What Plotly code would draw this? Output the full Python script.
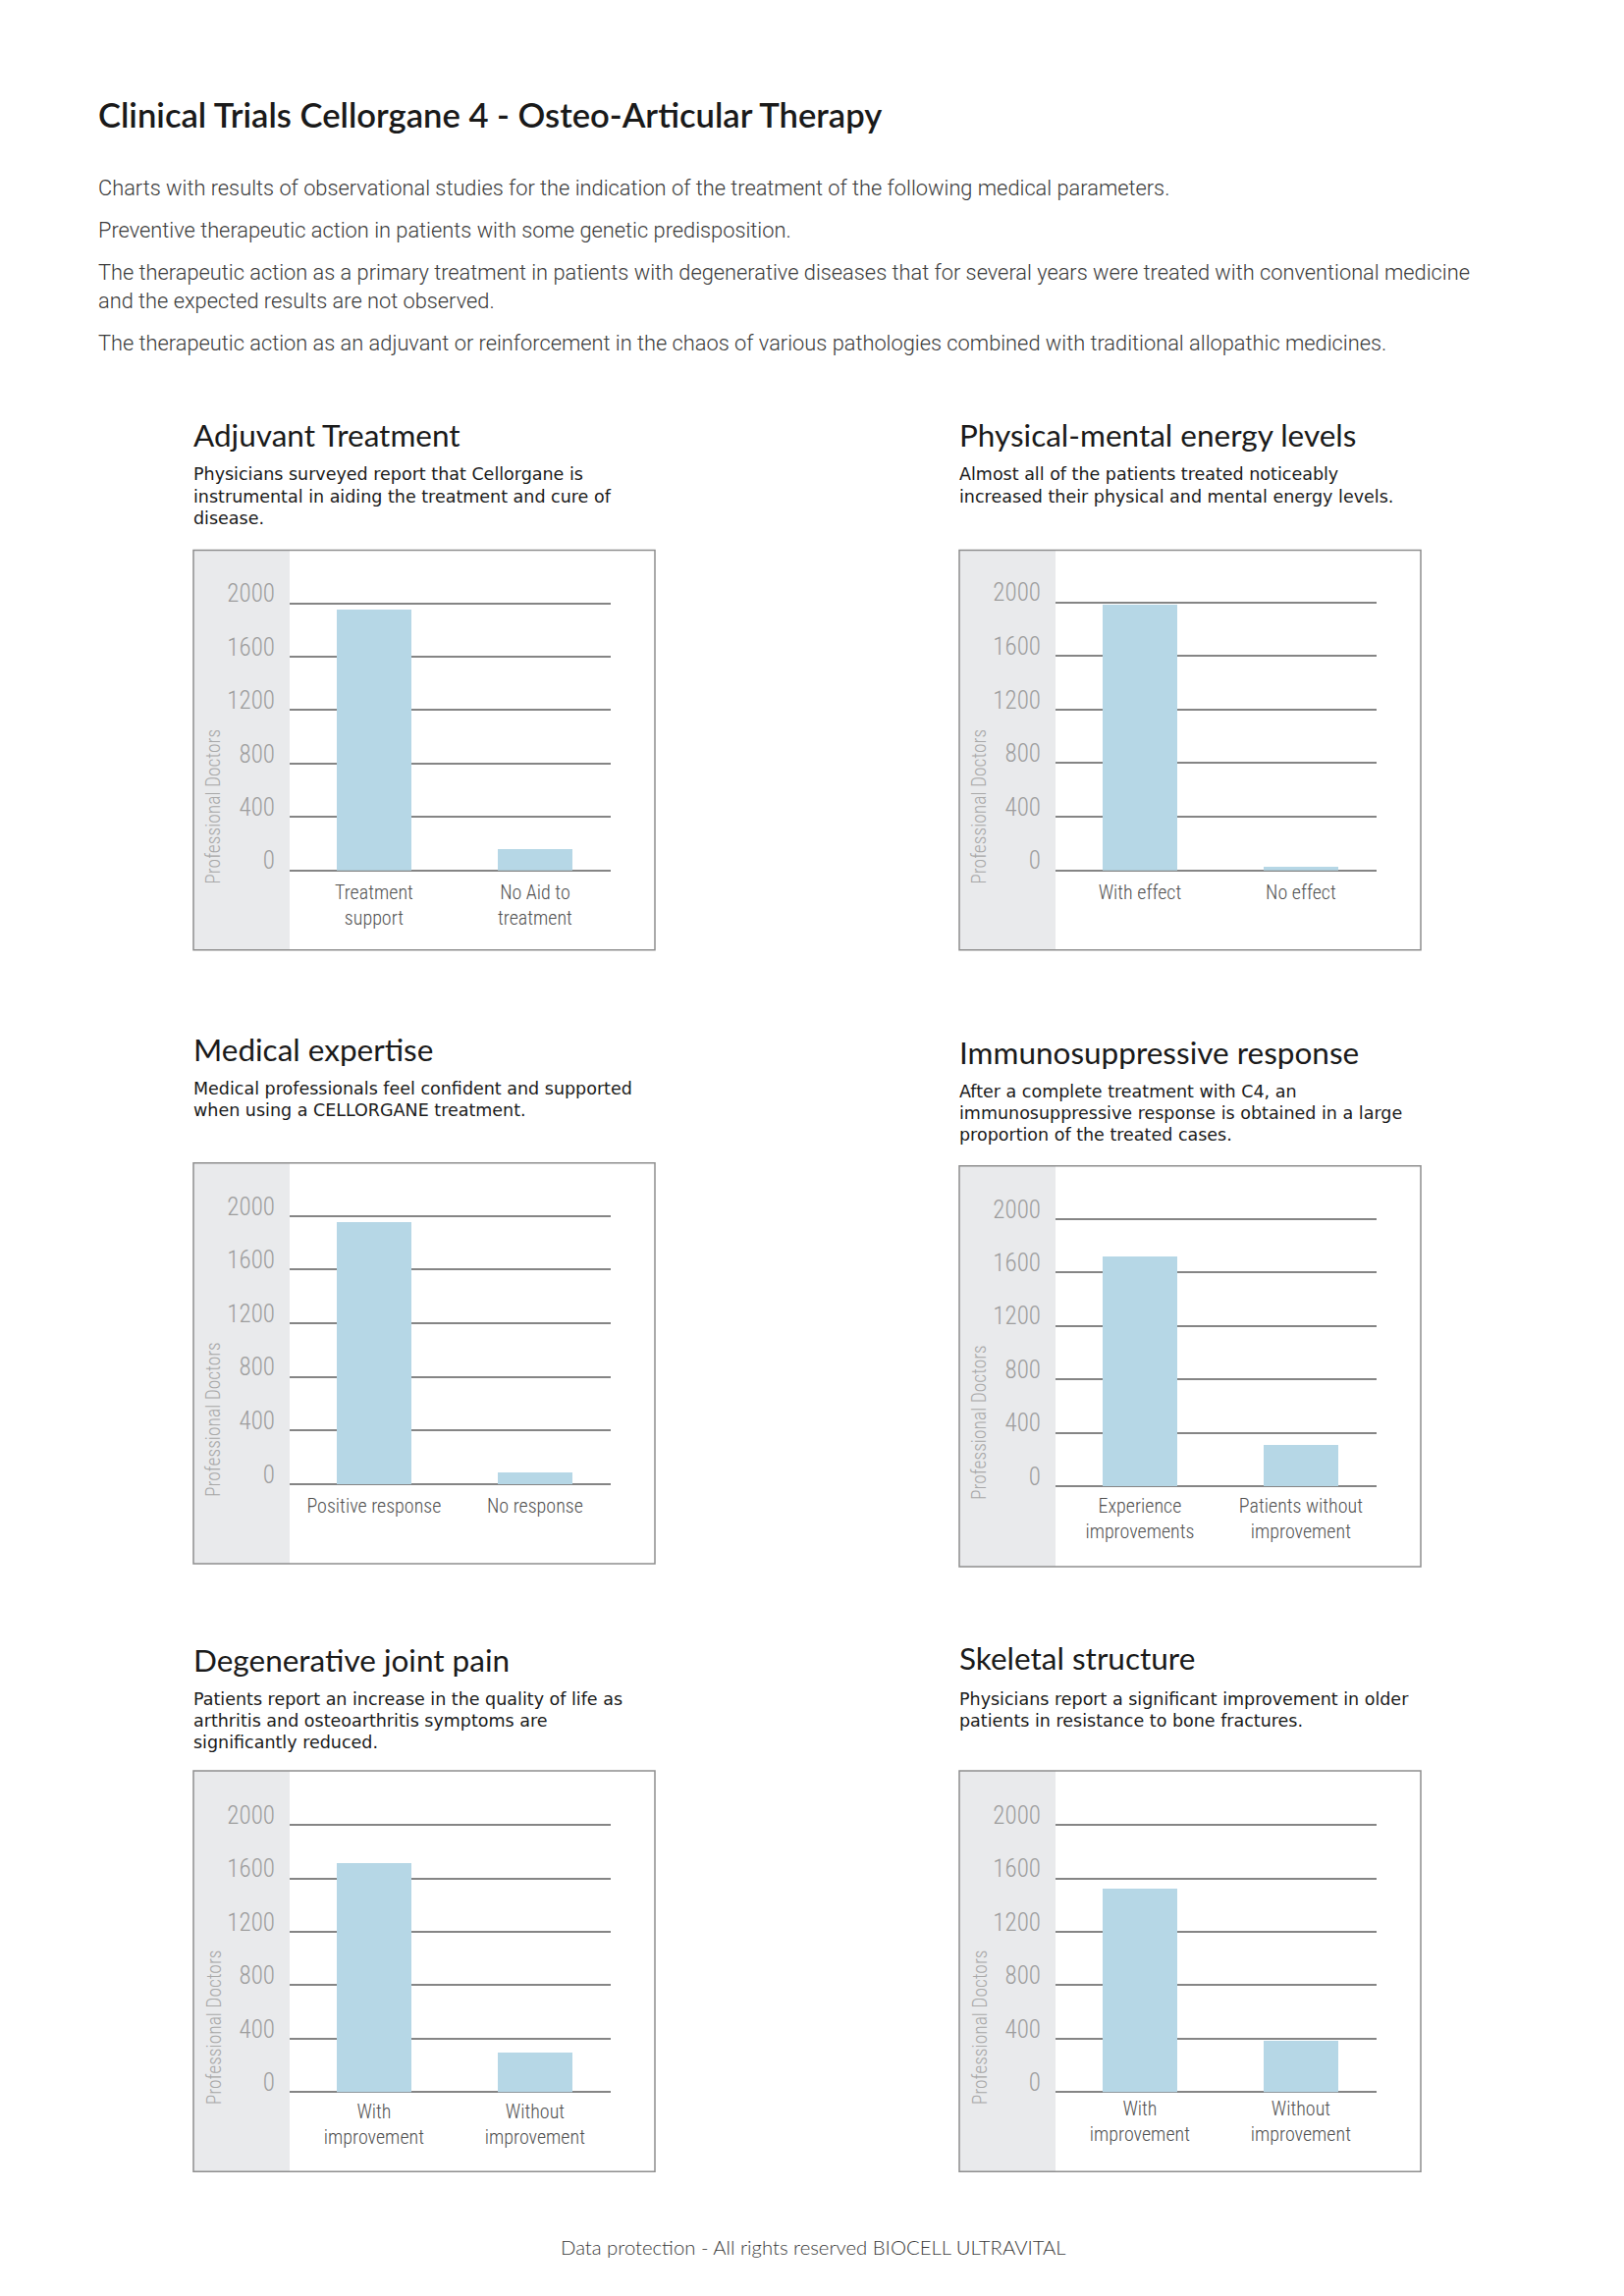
import plotly.graph_objects as go

# ---------------- data ----------------
panel_titles = ["Adjuvant Treatment", "Physical-mental energy levels", "Medical expertise",
                "Immunosuppressive response", "Degenerative joint pain", "Skeletal structure"]
panel_subtitles = [
    ["Physicians surveyed report that Cellorgane is", "instrumental in aiding the treatment and cure of", "disease."],
    ["Almost all of the patients treated noticeably", "increased their physical and mental energy levels."],
    ["Medical professionals feel confident and supported", "when using a CELLORGANE treatment."],
    ["After a complete treatment with C4, an", "immunosuppressive response is obtained in a large", "proportion of the treated cases."],
    ["Patients report an increase in the quality of life as", "arthritis and osteoarthritis symptoms are", "significantly reduced."],
    ["Physicians report a significant improvement in older", "patients in resistance to bone fractures."],
]
categories_1 = ["Treatment<br>support", "No Aid to<br>treatment"]
categories_2 = ["With effect", "No effect"]
categories_3 = ["Positive response", "No response"]
categories_4 = ["Experience<br>improvements", "Patients without<br>improvement"]
categories_5 = ["With<br>improvement", "Without<br>improvement"]
categories_6 = ["With<br>improvement", "Without<br>improvement"]
values_1 = [1950, 155]
values_2 = [1985, 25]
values_3 = [1950, 85]
values_4 = [1720, 305]
values_5 = [1720, 300]
values_6 = [1525, 390]
y_tick_values = [0, 400, 800, 1200, 1600, 2000]
y_tick_labels = ["0", "400", "800", "1200", "1600", "2000"]
y_axis_title = "Professional Doctors"

main_title = "Clinical Trials Cellorgane 4 - Osteo-Articular Therapy"
intro_lines = [
    "Charts with results of observational studies for the indication of the treatment of the following medical parameters.",
    "Preventive therapeutic action in patients with some genetic predisposition.",
    "The therapeutic action as a primary treatment in patients with degenerative diseases that for several years were treated with conventional medicine",
    "and the expected results are not observed.",
    "The therapeutic action as an adjuvant or reinforcement in the chaos of various pathologies combined with traditional allopathic medicines.",
]
footer = "Data protection - All rights reserved BIOCELL ULTRAVITAL"

categories = [categories_1, categories_2, categories_3, categories_4, categories_5, categories_6]
values = [values_1, values_2, values_3, values_4, values_5, values_6]

# ---------------- layout geometry (target pixels on the page) ----------------
OX, OY = 8, 8          # page body margin
FW, FH = 1636, 2318    # figure size
VA, VS = 18.8, 0.9892  # observed vertical page mapping correction

def px(x):
    return (x - OX) / FW

def py(y):
    yi = (y - VA) / VS
    return 1 - (yi - OY) / FH

boxes = [
    (197, 560, 667, 967), (977, 560, 1447, 967),
    (197, 1184, 667, 1592), (977, 1187, 1447, 1595),
    (197, 1803, 667, 2211), (977, 1803, 1447, 2211),
]
plot_y = [(614, 886), (613, 886), (1238, 1511), (1241, 1513), (1858, 2130), (1858, 2130)]
title_y = [443, 443, 1068, 1071, 1690, 1688]
sub_y0 = [483, 483, 1108, 1111, 1730, 1730]
cat_standoff = [8, 8, 8, 6, 6, 3]
YMAX = 2040

BAR = "#b6d7e6"
GRID = "#858585"
STRIP = "#e9eaec"
BORDER = "#8e8e8e"
COND = "Liberation Sans Narrow, Roboto Condensed, DejaVu Sans Condensed, Liberation Sans, sans-serif"

fig = go.Figure()
shapes = []
annotations = []

for i in range(6):
    bl, bt, br, bb = boxes[i]
    x0 = bl + 98
    x1 = x0 + 327
    yt, yb = plot_y[i]
    ytop = yb - (yb - yt) * YMAX / 2000
    ax = "" if i == 0 else str(i + 1)
    fig.add_trace(go.Bar(
        x=categories[i], y=values[i], marker=dict(color=BAR, line=dict(width=0)),
        width=0.463, xaxis="x" + ax, yaxis="y" + ax, showlegend=False, hoverinfo="x+y"))
    fig.layout["xaxis" + ax] = dict(
        domain=[px(x0), px(x1)], anchor="y" + ax, type="category",
        range=[-0.524, 1.47], showgrid=False, zeroline=False, showline=False,
        ticks="", tickfont=dict(family=COND, size=20, color="#505050", weight=300),
        ticklabelstandoff=cat_standoff[i], fixedrange=True)
    fig.layout["yaxis" + ax] = dict(
        domain=[py(yb), py(ytop)], anchor="x" + ax, range=[0, YMAX],
        tickvals=y_tick_values, ticktext=y_tick_labels,
        showgrid=True, gridcolor=GRID, gridwidth=1.5,
        zeroline=True, zerolinecolor=GRID, zerolinewidth=1.5, showline=False,
        ticks="", tickfont=dict(family=COND, size=25, color="#9d9d9d", weight=300),
        ticklabelstandoff=14, ticklabelshift=-10, fixedrange=True)
    shapes.append(dict(type="rect", xref="paper", yref="paper", layer="below",
                       x0=px(bl), x1=px(x0), y0=py(bb), y1=py(bt),
                       fillcolor=STRIP, line=dict(width=0)))
    shapes.append(dict(type="rect", xref="paper", yref="paper", layer="above",
                       x0=px(bl), x1=px(br), y0=py(bb), y1=py(bt),
                       fillcolor="rgba(0,0,0,0)", line=dict(color=BORDER, width=1.5)))
    annotations.append(dict(text=y_axis_title, xref="paper", yref="paper",
                            x=px(bl + 21), y=py(bt + 261), textangle=-90,
                            xanchor="center", yanchor="middle", showarrow=False,
                            font=dict(family=COND, size=19.5, color="#a8a8a8", weight=300)))
    annotations.append(dict(text=panel_titles[i], xref="paper", yref="paper",
                            x=px(bl - 2), y=py(title_y[i]), xanchor="left", yanchor="middle",
                            showarrow=False, font=dict(family="Lato", size=31.5, color="#1a1a1a")))
    for j, line in enumerate(panel_subtitles[i]):
        annotations.append(dict(text=line, xref="paper", yref="paper",
                                x=px(bl - 2), y=py(sub_y0[i] + 22 * j), xanchor="left", yanchor="middle",
                                showarrow=False, font=dict(family="DejaVu Sans", size=17.5, color="#1a1a1a")))

annotations.append(dict(text=main_title, xref="paper", yref="paper", x=px(98), y=py(116),
                        xanchor="left", yanchor="middle", showarrow=False,
                        font=dict(family="Lato", size=34.6, color="#1a1a1a", weight=600)))
intro_y = [191, 234, 277, 306, 349]
for line, yy in zip(intro_lines, intro_y):
    annotations.append(dict(text=line, xref="paper", yref="paper", x=px(98), y=py(yy),
                            xanchor="left", yanchor="middle", showarrow=False,
                            font=dict(family="Roboto", size=21.8, color="#3a3a3a", weight=300)))
annotations.append(dict(text=footer, xref="paper", yref="paper", x=px(828), y=py(2288),
                        xanchor="center", yanchor="middle", showarrow=False,
                        font=dict(family="Lato", size=20.3, color="#3a3a3a", weight=300)))

fig.update_layout(width=FW, height=FH, margin=dict(l=0, r=0, t=0, b=0),
                  paper_bgcolor="white", plot_bgcolor="white",
                  shapes=shapes, annotations=annotations, bargap=0)
fig.write_html("out.html")
